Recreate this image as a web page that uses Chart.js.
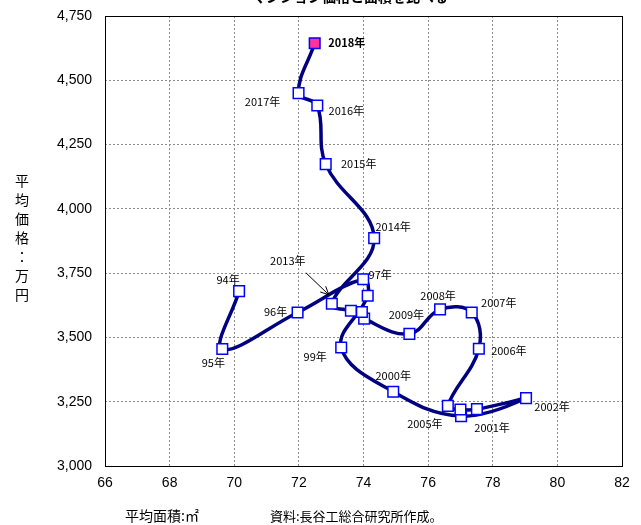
<!DOCTYPE html>
<html>
<head>
<meta charset="utf-8">
<script src="https://cdn.jsdelivr.net/npm/chart.js@4.4.1/dist/chart.umd.min.js"></script>
<style>
  html, body { margin: 0; padding: 0; background: #ffffff; }
  canvas { display: block; }
</style>
</head>
<body>
<canvas id="chart" width="641" height="525"></canvas>
<script>
// Year of each observation (shown as point labels where an offset is given)
const years = ['94年', '95年', '96年', '97年', '98年', '99年', '2000年', '2001年', '2002年',
  '2003年', '2004年', '2005年', '2006年', '2007年', '2008年', '2009年', '2010年', '2011年',
  '2012年', '2013年', '2014年', '2015年', '2016年', '2017年', '2018年'];
// Average floor area (m²)
const area = [70.15, 69.63, 71.96, 73.99, 74.13, 73.31, 74.92, 77.02, 79.03,
  77.51, 77.00, 76.61, 77.57, 77.35, 76.37, 75.42, 74.02, 73.95,
  73.61, 73.02, 74.33, 72.83, 72.57, 71.99, 72.49];
// Average price (10,000 yen)
const price = [3680, 3455, 3597, 3726, 3662, 3461, 3289, 3194, 3264,
  3221, 3220, 3234, 3456, 3597, 3609, 3514, 3573, 3599,
  3604, 3631, 3886, 4174, 4402, 4450, 4644];
// Axis ticks
const xTicks = [66, 68, 70, 72, 74, 76, 78, 80, 82];
const yTicks = [3000, 3250, 3500, 3750, 4000, 4250, 4500, 4750];

const titleText = 'マンション価格と面積を比べる';
const yTitle = '平均価格：万円';
const footArea = '平均面積:㎡';
const footSource = '資料:長谷工総合研究所作成。';

// Text placement for labelled years: pixel offset from the marker
const labelOffsets = {
  '94年': [-11, -11], '95年': [-9, 14], '96年': [-22, -1], '97年': [17, -5],
  '99年': [-26, 9], '2000年': [0, -16], '2001年': [31, 12], '2002年': [26, 9],
  '2005年': [-23, 18], '2006年': [30, 2], '2007年': [27, -10], '2008年': [-2, -14],
  '2009年': [-3, -19], '2013年': [-44, -43], '2014年': [19, -11], '2015年': [33, 0],
  '2016年': [29, 5], '2017年': [-36, 9], '2018年': [32, 0]
};
const boldLabels = ['2018年'];
const arrowFor = '2013年';

const points = area.map((a, i) => ({ x: a, y: price[i] }));
const lastIdx = points.length - 1;

const decorations = {
  id: 'decorations',
  beforeDatasetsDraw(chart) {
    const { ctx, chartArea: ca } = chart;
    ctx.save();
    ctx.setLineDash([]);
    ctx.strokeStyle = '#000000';
    ctx.lineWidth = 1;
    ctx.strokeRect(Math.round(ca.left) + 0.5, Math.round(ca.top) + 0.5,
      Math.round(ca.right - ca.left), Math.round(ca.bottom - ca.top));
    ctx.restore();
  },
  afterDraw(chart) {
    const { ctx } = chart;
    const xs = chart.scales.x, ys = chart.scales.y;
    ctx.save();
    ctx.fillStyle = '#000000';

    // point labels
    ctx.textAlign = 'center';
    ctx.textBaseline = 'middle';
    years.forEach((yr, i) => {
      const off = labelOffsets[yr];
      if (!off) return;
      const px = xs.getPixelForValue(area[i]);
      const py = ys.getPixelForValue(price[i]);
      ctx.font = (boldLabels.includes(yr) ? 'bold ' : '') + '11px "Noto Sans CJK JP", sans-serif';
      ctx.fillText(yr, px + off[0], py + off[1]);
      if (yr === arrowFor) {
        const tx = px - 3, ty = py - 9;
        const sx = px - 26, sy = py - 31;
        ctx.strokeStyle = '#000000';
        ctx.lineWidth = 1;
        ctx.beginPath();
        ctx.moveTo(sx, sy);
        ctx.lineTo(tx, ty);
        const ang = Math.atan2(ty - sy, tx - sx);
        const len = 9, spread = 0.45;
        ctx.moveTo(tx, ty);
        ctx.lineTo(tx - len * Math.cos(ang - spread), ty - len * Math.sin(ang - spread));
        ctx.moveTo(tx, ty);
        ctx.lineTo(tx - len * Math.cos(ang + spread), ty - len * Math.sin(ang + spread));
        ctx.stroke();
      }
    });

    // title (top edge of the canvas trims it)
    ctx.font = 'bold 14px "Noto Sans CJK JP", sans-serif';
    ctx.textAlign = 'center';
    ctx.textBaseline = 'alphabetic';
    ctx.fillText(titleText, 350, 2);

    // vertical y-axis title
    ctx.font = '14px "Noto Sans CJK JP", sans-serif';
    ctx.textBaseline = 'middle';
    const chars = Array.from(yTitle);
    const step = 19;
    const y0 = 238 - (chars.length - 1) * step / 2;
    chars.forEach((ch, i) => ctx.fillText(ch, 22, y0 + i * step));

    // footer
    ctx.textAlign = 'left';
    ctx.font = '14px "Noto Sans CJK JP", sans-serif';
    ctx.fillText(footArea, 125, 516);
    ctx.font = '13px "Noto Sans CJK JP", sans-serif';
    ctx.fillText(footSource, 270, 516);
    ctx.restore();
  }
};

new Chart(document.getElementById('chart'), {
  type: 'scatter',
  data: {
    datasets: [{
      data: points,
      showLine: true,
      tension: 0.4,
      borderColor: '#000080',
      borderWidth: 3.5,
      pointStyle: 'rect',
      pointRadius: 7.5,
      pointHoverRadius: 7.5,
      pointBorderWidth: 1.5,
      pointBorderColor: '#0000ff',
      pointBackgroundColor: points.map((p, i) => i === lastIdx ? '#ff3399' : '#ffffff'),
      clip: false
    }]
  },
  options: {
    responsive: false,
    animation: false,
    events: [],
    layout: { padding: { left: 45, right: 19, top: 16, bottom: 0 } },
    plugins: { legend: { display: false }, tooltip: { enabled: false }, title: { display: false } },
    scales: {
      x: {
        type: 'linear',
        min: xTicks[0],
        max: xTicks[xTicks.length - 1],
        afterBuildTicks: (s) => { s.ticks = xTicks.map(v => ({ value: v })); },
        afterFit: (s) => { s.height = 59; s.paddingLeft = 0; s.paddingRight = 0; },
        ticks: {
          color: '#000000',
          padding: 9,
          maxRotation: 0,
          font: { family: '"Liberation Sans", Arial, sans-serif', size: 14 }
        },
        grid: { color: '#8c8c8c', lineWidth: 1, drawTicks: false },
        border: { display: false, dash: [2, 2] }
      },
      y: {
        type: 'linear',
        min: yTicks[0],
        max: yTicks[yTicks.length - 1],
        afterBuildTicks: (s) => { s.ticks = yTicks.map(v => ({ value: v })); },
        afterFit: (s) => { s.width = 60; s.paddingTop = 0; s.paddingBottom = 0; },
        ticks: {
          color: '#000000',
          padding: 13,
          font: { family: '"Liberation Sans", Arial, sans-serif', size: 14 },
          callback: (v) => Number(v).toLocaleString('en-US')
        },
        grid: { color: '#8c8c8c', lineWidth: 1, drawTicks: false },
        border: { display: false, dash: [2, 2] }
      }
    }
  },
  plugins: [decorations]
});
</script>
</body>
</html>
